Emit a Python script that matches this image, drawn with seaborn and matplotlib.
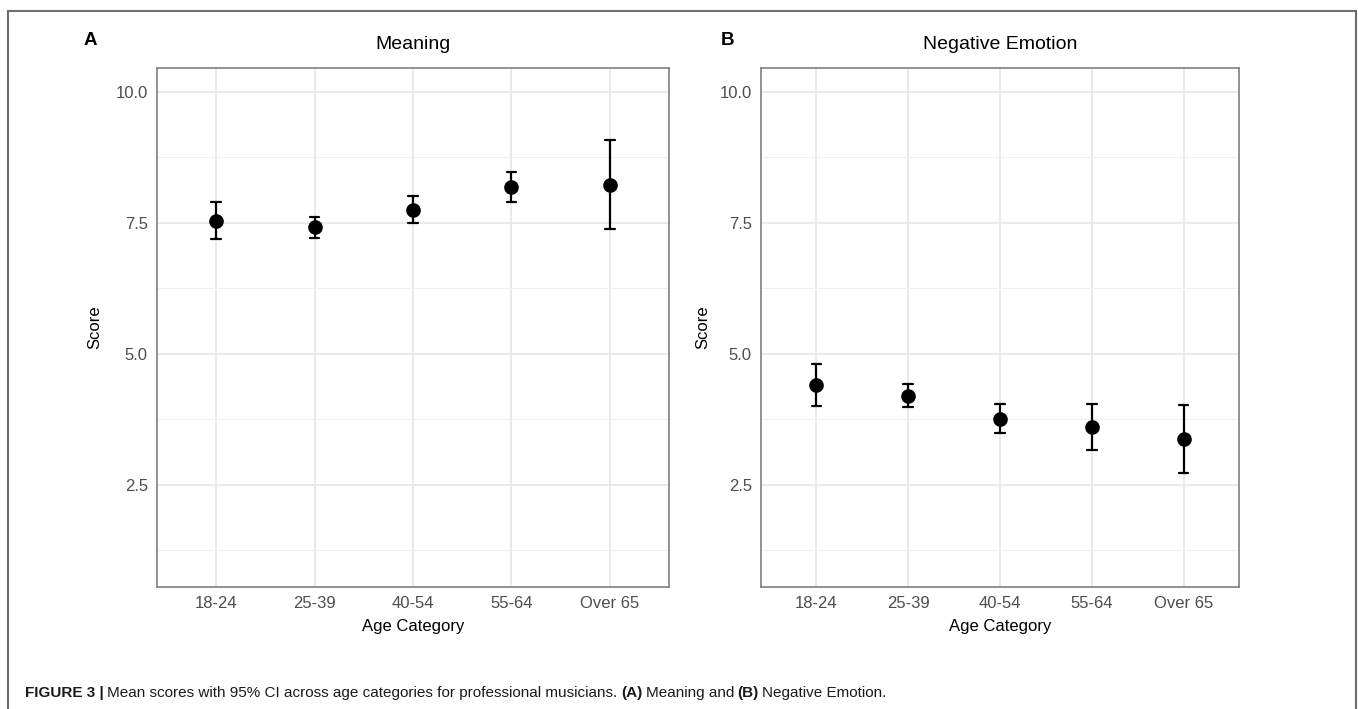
import numpy as np
import pandas as pd
import matplotlib
matplotlib.use("Agg")
import matplotlib.pyplot as plt
import seaborn as sns
from matplotlib.ticker import FixedLocator, FormatStrFormatter
from matplotlib.patches import Rectangle

# ---------------- data ----------------
categories = ["18-24", "25-39", "40-54", "55-64", "Over 65"]

meaning_mean = [7.54, 7.41, 7.75, 8.18, 8.22]
meaning_low = [7.19, 7.21, 7.49, 7.89, 7.38]
meaning_high = [7.90, 7.61, 8.01, 8.46, 9.07]

negative_mean = [4.41, 4.20, 3.76, 3.61, 3.38]
negative_low = [4.01, 3.99, 3.49, 3.17, 2.73]
negative_high = [4.81, 4.42, 4.04, 4.04, 4.03]

y_ticks = [2.5, 5.0, 7.5, 10.0]
y_minor = [1.25, 3.75, 6.25, 8.75]

panel_letters = ["A", "B"]
panel_titles = ["Meaning", "Negative Emotion"]
x_label = "Age Category"
y_label = "Score"

caption_parts = [
    ("FIGURE 3 |", "bold"),
    ("Mean scores with 95% CI across age categories for professional musicians.", "normal"),
    ("(A)", "bold"),
    ("Meaning and", "normal"),
    ("(B)", "bold"),
    ("Negative Emotion.", "normal"),
]

# ---------------- style ----------------
sns.set_theme(style="white")
plt.rcParams["font.family"] = ["Liberation Sans", "DejaVu Sans"]

W, H = 1358, 709
fig = plt.figure(figsize=(W / 100, H / 100), dpi=100)


def long_df(mean, low, high):
    rows = []
    for c, m, lo, hi in zip(categories, mean, low, high):
        for v in (lo, m, hi):
            rows.append({"Age Category": c, "Score": v})
    return pd.DataFrame(rows)


def rect(l, t, r, b):
    return [l / W, 1 - b / H, (r - l) / W, (b - t) / H]


panels = [
    (long_df(meaning_mean, meaning_low, meaning_high), (157, 68, 669, 587), 84),
    (long_df(negative_mean, negative_low, negative_high), (761, 68, 1239, 587), 721),
]

for i, (df, box, letter_x) in enumerate(panels):
    ax = fig.add_axes(rect(*box))
    sns.pointplot(
        data=df, x="Age Category", y="Score", order=categories,
        estimator=np.median, errorbar=lambda v: (v.min(), v.max()),
        color="black", marker="o", linestyle="none", markersize=8.5,
        capsize=0.1, err_kws={"linewidth": 1.6}, ax=ax,
    )
    ax.set_xlim(-0.6, len(categories) - 0.4)
    ax.set_ylim(0.55, 10.45)
    ax.yaxis.set_major_locator(FixedLocator(y_ticks))
    ax.yaxis.set_minor_locator(FixedLocator(y_minor))
    ax.yaxis.set_major_formatter(FormatStrFormatter("%.1f"))
    ax.set_axisbelow(True)
    ax.grid(which="major", color="#E6E6E6", linewidth=1.2)
    ax.grid(which="minor", axis="y", color="#F0F0F0", linewidth=0.8)
    ax.tick_params(which="major", length=3.6, width=1.0, color="#333333",
                   labelcolor="#4D4D4D", labelsize=12, pad=3)
    ax.tick_params(which="minor", length=0)
    for s in ax.spines.values():
        s.set_visible(True)
        s.set_color("#7F7F7F")
        s.set_linewidth(1.2)
    ax.set_xlabel(x_label, fontsize=12, color="black")
    ax.set_ylabel(y_label, fontsize=12, color="black")
    ax.yaxis.set_label_coords(-0.107, 0.5)
    ax.xaxis.set_label_coords(0.5, (587 - 619) / 519)
    ax.set_title(panel_titles[i], fontsize=14, pad=13.5, color="black")
    fig.text(letter_x / W, 1 - 45 / H, panel_letters[i], fontsize=13.5,
             fontweight="bold", va="baseline", ha="left", color="black")

# outer frame (open at the bottom, as in the reference)
fig.add_artist(Rectangle((8 / W, -0.05), (1356 - 8) / W, 1.05 - 11 / H,
                         transform=fig.transFigure, fill=False,
                         edgecolor="#6E6E6E", linewidth=1.5))

# caption
renderer = fig.canvas.get_renderer()
cap_family = ["Liberation Sans Narrow", "Liberation Sans", "DejaVu Sans"]
x = 25
gap = 3.5
for txt, weight in caption_parts:
    t = fig.text(x / W, 1 - 697 / H, txt, fontsize=11, fontweight=weight,
                 family=cap_family, va="baseline", ha="left", color="#1A1A1A")
    bb = t.get_window_extent(renderer=renderer)
    x = bb.x1 + gap

fig.savefig("out.png", dpi=100)
